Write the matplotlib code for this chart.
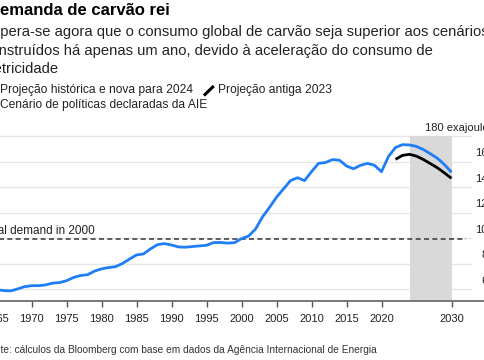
import matplotlib
matplotlib.use("Agg")
import matplotlib.pyplot as plt

plt.rcParams['font.family'] = ['Liberation Sans', 'DejaVu Sans']

W, H = 485, 360

# data (exajoules)
years = list(range(1965, 2031))
demand_new = [59.5, 58.8, 58.5, 60.0, 61.8, 62.6, 62.6, 63.2, 64.6, 65.0,
              66.5, 69.0, 70.6, 71.2, 74.0, 75.8, 76.8, 77.5, 80.0, 83.5,
              86.7, 87.5, 91.5, 94.8, 95.6, 94.5, 93.0, 92.8, 93.3, 93.8,
              94.3, 96.4, 96.5, 96.0, 96.3, 99.5, 101.5, 107.0, 116.5, 124.0,
              132.0, 138.5, 145.0, 147.3, 145.0, 152.0, 158.5, 159.2, 161.5, 161.0,
              156.5, 154.3, 157.0, 158.5, 157.0, 152.0, 164.0, 171.0, 173.2, 173.0,
              171.8, 169.3, 166.0, 162.5, 157.5, 151.5]
old_years = list(range(2022, 2031))
demand_old = [161.7, 164.8, 165.6, 164.2, 161.5, 158.3, 155.0, 151.0, 146.8]
demand_2000 = 99.5
proj_start, proj_end = 2024, 2030

xtick_years = [1965, 1970, 1975, 1980, 1985, 1990, 1995, 2000, 2005, 2010, 2015, 2020, 2030]
ytick_vals = [60, 80, 100, 120, 140, 160, 180]
ytick_labels = ['60', '80', '100', '120', '140', '160', '180 exajoules']

BLUE = '#1f7ef5'


def fx(px):
    return px / W


def fy(py):
    return 1 - py / H


fig = plt.figure(figsize=(W / 100, H / 100), dpi=100)

# axes placement in pixels (chart is cropped on both sides)
left_px, right_px = -17.5, 472.5
bottom_px, top_px = 301, 133.45
ax = fig.add_axes([fx(left_px), fy(bottom_px), (right_px - left_px) / W, (bottom_px - top_px) / H])
ax.set_xlim(1963, 2033)
ax.set_ylim(50.59, 182)

for s in ax.spines.values():
    s.set_visible(False)

ax.set_yticks(ytick_vals)
ax.yaxis.grid(True, color='#e6e6e6', linewidth=1.0)
ax.tick_params(axis='y', left=False, labelleft=False)
ax.set_axisbelow(True)

ax.set_xticks(xtick_years)
ax.set_xticklabels([str(y) for y in xtick_years])
ax.tick_params(axis='x', length=4.5, width=1.0, color='#555', pad=5, labelsize=8, labelcolor='#222')

# bottom axis line, running past the right edge
ax.plot([0, 1.1], [0, 0], transform=ax.transAxes, color='#777', linewidth=1.4, clip_on=False, zorder=5)

# projection shading
ax.fill_between([proj_start, proj_end], 50.59, 180, color='#d9d9d9', linewidth=0, zorder=1)

# demand in 2000 reference line
ax.plot([1963, 2032], [demand_2000, demand_2000], color='#444', linewidth=1.2,
        dashes=(3, 2), zorder=3)
ax.text(1963, demand_2000 + 3.5, 'Total demand in 2000', fontsize=8.5, color='#222',
        ha='left', va='baseline')

ax.plot(old_years, demand_old, color='black', linewidth=2.0, zorder=4, solid_capstyle='butt')
ax.plot(years, demand_new, color=BLUE, linewidth=2.0, zorder=4, solid_capstyle='butt')

for v, lab in zip(ytick_vals, ytick_labels):
    ax.annotate(lab, xy=(1, v), xycoords=('axes fraction', 'data'), xytext=(15.5, 2.5),
                textcoords='offset points', ha='right', va='bottom', fontsize=8,
                color='#222', annotation_clip=False)

# title block
fig.text(fx(-12), fy(15), 'Demanda de carvão rei', fontsize=12, fontweight='bold',
         ha='left', va='baseline', color='black')
subtitle = ['Espera-se agora que o consumo global de carvão seja superior aos cenários',
            'construídos há apenas um ano, devido à aceleração do consumo de',
            'eletricidade']
for i, line in enumerate(subtitle):
    fig.text(fx(-17.5), fy(36 + 18.7 * i), line, fontsize=10.6, ha='left', va='baseline', color='#222')

# legend
fig.add_artist(plt.Line2D([fx(-13), fx(-5.5)], [fy(94.5), fy(87)], color=BLUE, linewidth=2.2))
fig.text(fx(0), fy(93.3), 'Projeção histórica e nova para 2024', fontsize=8.65, ha='left',
         va='baseline', color='#222')
fig.add_artist(plt.Line2D([fx(205), fx(212.7)], [fy(94.5), fy(87)], color='black', linewidth=2.2))
fig.text(fx(218), fy(93.3), 'Projeção antiga 2023', fontsize=8.65, ha='left', va='baseline', color='#222')
fig.add_artist(plt.Rectangle((fx(-13), fy(108)), 9 / W, 9 / H, color='#d9d9d9'))
fig.text(fx(-0.5), fy(108), 'Cenário de políticas declaradas da AIE', fontsize=8.65, ha='left',
         va='baseline', color='#222')

# source
fig.text(fx(-16.8), fy(353), 'Fonte: cálculos da Bloomberg com base em dados da Agência Internacional de Energia',
         fontsize=7.3, ha='left', va='baseline', color='#333')

fig.savefig('out.png', dpi=100)
